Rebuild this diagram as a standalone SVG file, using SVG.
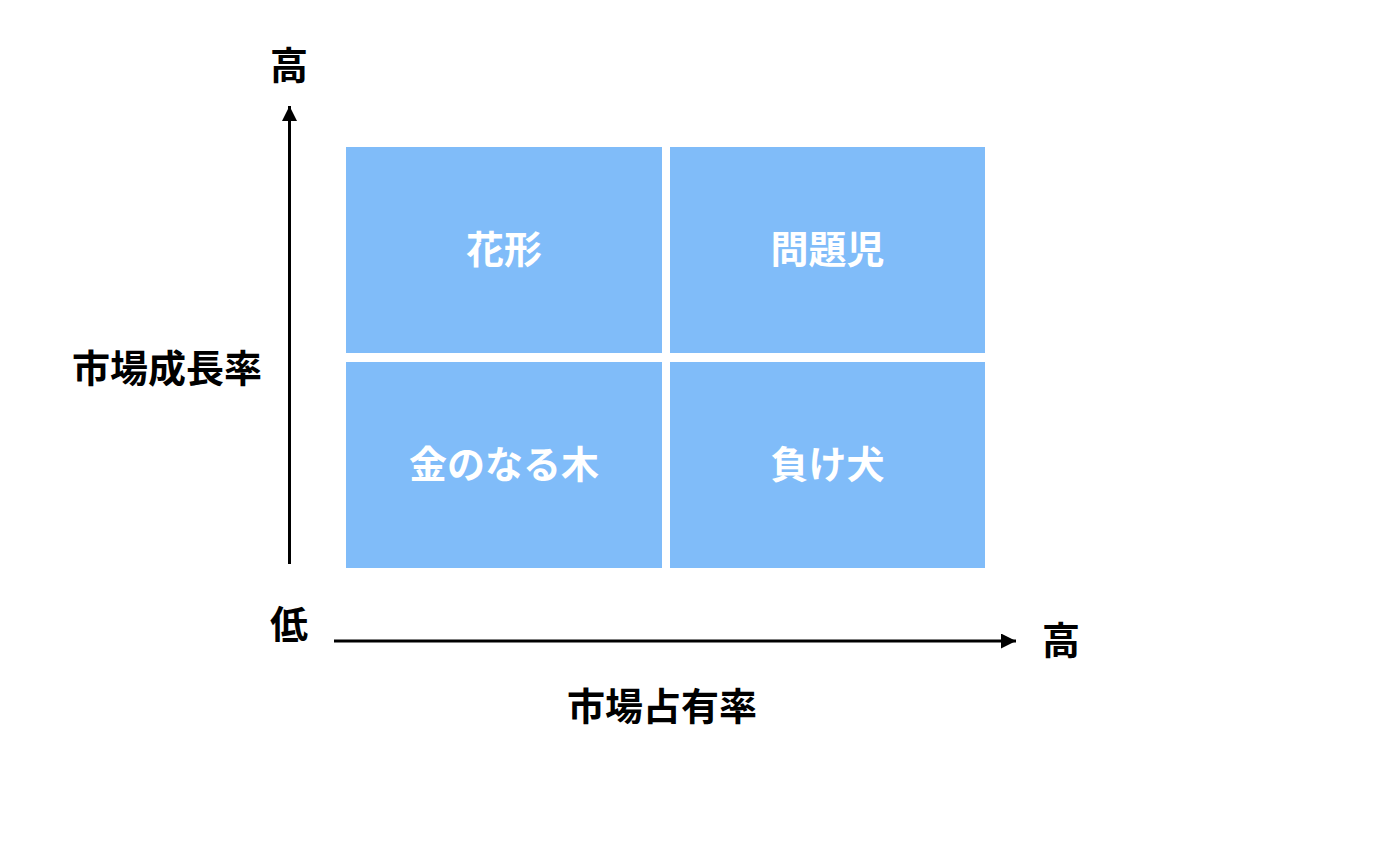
<svg xmlns="http://www.w3.org/2000/svg" width="1382" height="852" viewBox="0 0 1382 852">
<style>
.box{fill:#80bcf9}
.t{font-family:"Noto Sans CJK JP","Noto Sans CJK SC",sans-serif;font-size:38px;font-weight:bold;text-anchor:middle;dominant-baseline:central}
.w{fill:#ffffff}
.k{fill:#000000}
.ax{stroke:#000;stroke-width:3;fill:none}
</style>
<defs>
<marker id="ah" viewBox="0 0 10 10" refX="10" refY="5" markerWidth="5" markerHeight="5" markerUnits="strokeWidth" orient="auto">
<path d="M0,0 L10,5 L0,10 z" fill="#000"/>
</marker>
</defs>
<rect width="1382" height="852" fill="#fff"/>
<g id="connectors">
<line class="ax" x1="289.5" y1="564" x2="289.5" y2="106" marker-end="url(#ah)"/>
<line class="ax" x1="334" y1="641" x2="1016" y2="641" marker-end="url(#ah)"/>
</g>
<g id="star"><rect class="box" x="346" y="147" width="316" height="206"/><text class="t w" x="504" y="246">花形</text></g>
<g id="problem"><rect class="box" x="670" y="147" width="315" height="206"/><text class="t w" x="827.5" y="246">問題児</text></g>
<g id="cashcow"><rect class="box" x="346" y="362" width="316" height="206"/><text class="t w" x="504" y="461">金のなる木</text></g>
<g id="dog"><rect class="box" x="670" y="362" width="315" height="206"/><text class="t w" x="827.5" y="461">負け犬</text></g>
<g id="labels">
<text class="t k" x="289" y="62">高</text>
<text class="t k" x="167" y="365">市場成長率</text>
<text class="t k" x="289" y="621">低</text>
<text class="t k" x="1061" y="637">高</text>
<text class="t k" x="662" y="703">市場占有率</text>
</g>
</svg>
